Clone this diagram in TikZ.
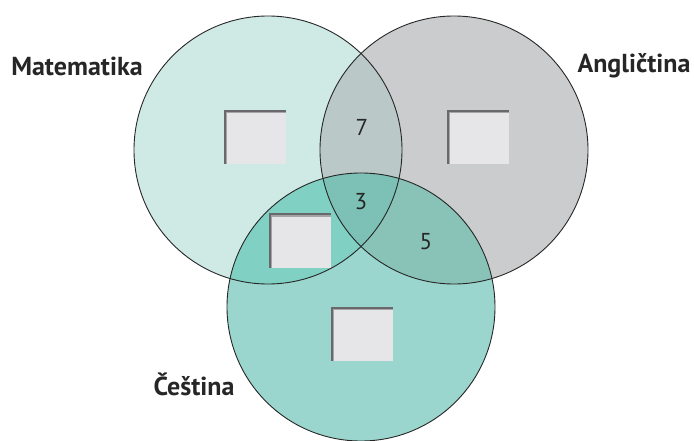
\documentclass[tikz,border=0pt]{standalone}
\usepackage{fontspec}
\setmainfont{PT Sans}
\begin{document}
\begin{tikzpicture}[x=1pt,y=-1pt,
  set/.style={draw=black!85,line width=0.9pt},
  blank/.style={fill=boxfill,minimum width=62pt,minimum height=54pt,inner sep=0pt,
    path picture={
      \fill[boxdark] (path picture bounding box.north west) rectangle ([yshift=-2pt]path picture bounding box.north east);
      \fill[boxdark] (path picture bounding box.north west) rectangle ([xshift=2pt]path picture bounding box.south west);
      \fill[boxmid] ([yshift=-2pt,xshift=2pt]path picture bounding box.north west) rectangle ([yshift=-3.2pt]path picture bounding box.north east);
      \fill[boxmid] ([yshift=-2pt,xshift=2pt]path picture bounding box.north west) rectangle ([xshift=3.2pt]path picture bounding box.south west);
    }},
  num/.style={font=\fontsize{23}{23}\selectfont,text=black!85},
  setlabel/.style={font=\fontsize{26}{26}\selectfont\bfseries,text=black!85}]
\definecolor{cM}{RGB}{207,234,229}
\definecolor{cA}{RGB}{203,204,206}
\definecolor{cC}{RGB}{154,214,205}
\definecolor{cMA}{RGB}{186,201,199}
\definecolor{cMC}{RGB}{128,209,195}
\definecolor{cAC}{RGB}{137,195,184}
\definecolor{cMAC}{RGB}{125,193,182}
\definecolor{boxfill}{RGB}{230,230,232}
\definecolor{boxdark}{RGB}{105,105,107}
\definecolor{boxmid}{RGB}{165,165,167}
\useasboundingbox (0,0) rectangle (694,441);
\coordinate (M) at (268,150);
\coordinate (A) at (454,150);
\coordinate (C) at (361,307);
\fill[cM] (M) circle (134);
\fill[cA] (A) circle (134);
\fill[cC] (C) circle (134);
\begin{scope}
  \clip (M) circle (134);
  \fill[cMA] (A) circle (134);
  \fill[cMC] (C) circle (134);
  \clip (A) circle (134);
  \fill[cMAC] (C) circle (134);
\end{scope}
\begin{scope}
  \clip (A) circle (134);
  \clip (C) circle (134);
  \fill[cAC] (M) ++(-300,-300) rectangle ++(800,800);
  \clip (M) circle (134);
  \fill[cMAC] (M) circle (134);
\end{scope}
\draw[set] (M) circle (134);
\draw[set] (A) circle (134);
\draw[set] (C) circle (134);
\node[blank] (bM) at (255,137) {};
\node[blank] (bA) at (478,137) {};
\node[blank] (bMC) at (300,240.5) {};
\node[blank] (bC) at (362,334) {};
\node[num] (n7) at (362,127) {7};
\node[num] (n3) at (361,202) {3};
\node[num] (n5) at (426,242) {5};
\node[setlabel] (lM) at (77,66) {Matematika};
\node[setlabel] (lA) at (634,66) {Angličtina};
\node[setlabel] (lC) at (194,384) {Čeština};
\end{tikzpicture}
\end{document}
